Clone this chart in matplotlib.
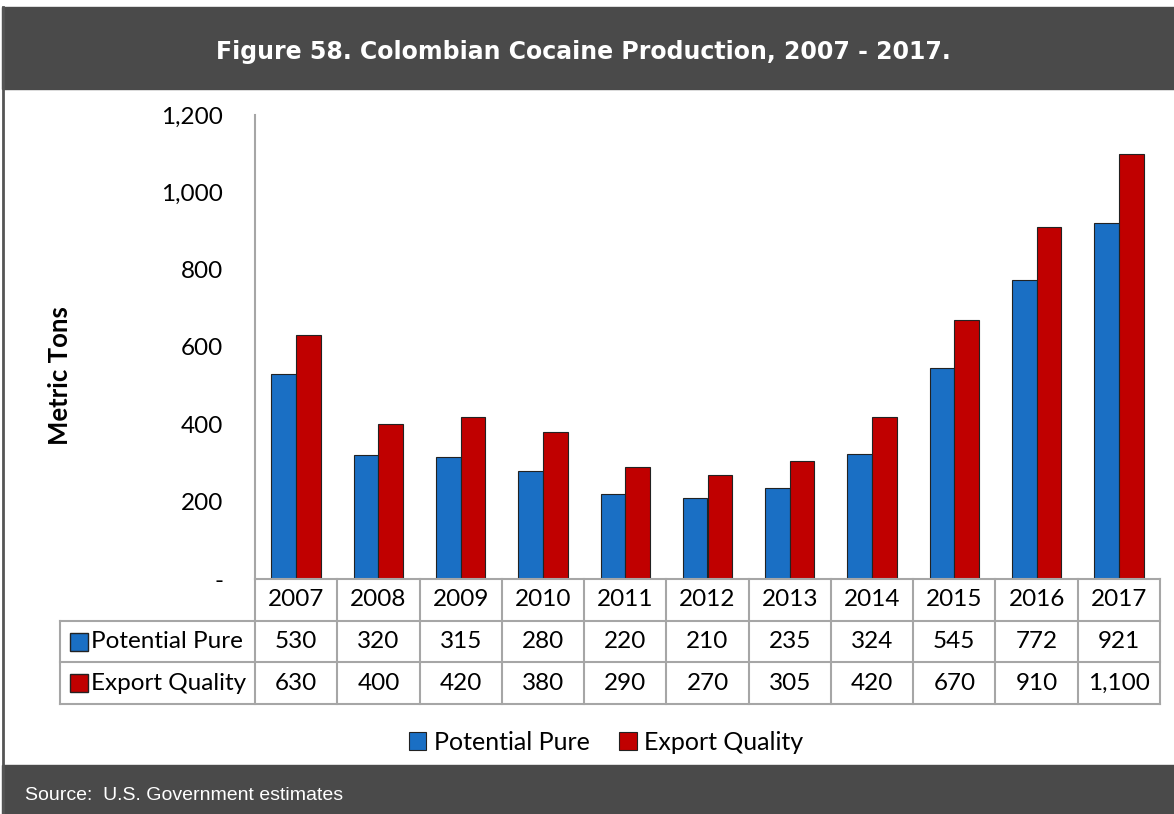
import matplotlib.pyplot as plt
from matplotlib.patches import Rectangle
from matplotlib.lines import Line2D

years = ['2007', '2008', '2009', '2010', '2011', '2012', '2013', '2014', '2015', '2016', '2017']
potential_pure = [530, 320, 315, 280, 220, 210, 235, 324, 545, 772, 921]
export_quality = [630, 400, 420, 380, 290, 270, 305, 420, 670, 910, 1100]
series_names = ['Potential Pure', 'Export Quality']
yticks = [0, 200, 400, 600, 800, 1000, 1200]

title = 'Figure 58. Colombian Cocaine Production, 2007 - 2017.'
source = 'Source:  U.S. Government estimates'

BLUE = '#1a6fc4'
RED = '#c00000'
BAND = '#4a4a4a'
GRID = '#a6a6a6'
W, H = 1174, 814

plt.rcParams['font.family'] = ['Lato', 'DejaVu Sans']

fig = plt.figure(figsize=(W / 100, H / 100), dpi=100)


def px(x0, y0, x1, y1):
    # pixel box (top-left origin) -> figure fraction rect
    return [x0 / W, 1 - y1 / H, (x1 - x0) / W, (y1 - y0) / H]


# header / footer bands and left border
fig.patches.append(Rectangle((2 / W, 1 - 89 / H), 1, 82 / H, transform=fig.transFigure,
                             color=BAND, zorder=0))
fig.patches.append(Rectangle((2 / W, 0), 1, 49 / H, transform=fig.transFigure,
                             color=BAND, zorder=0))
fig.add_artist(Line2D([3 / W, 3 / W], [0, 1 - 7 / H], transform=fig.transFigure,
                      color='#555555', lw=2))
fig.text(583 / W, 1 - 52 / H, title, color='white', fontsize=17, fontweight='bold',
         family='DejaVu Sans', ha='center', va='center')
fig.text(25 / W, 1 - 795 / H, source, color='white', fontsize=14,
         family='Liberation Sans', ha='left', va='center')

# main chart
x0, x1 = 255, 1160
ax = fig.add_axes(px(x0, 115, x1, 579))
idx = list(range(len(years)))
bw = 0.30
b1 = ax.bar([i - bw / 2 for i in idx], potential_pure, bw, color=BLUE,
            edgecolor='#222222', lw=0.8, label=series_names[0])
b2 = ax.bar([i + bw / 2 for i in idx], export_quality, bw, color=RED,
            edgecolor='#222222', lw=0.8, label=series_names[1])
ax.set_xlim(-0.5, len(years) - 0.5)
ax.set_ylim(0, 1200)
ax.set_yticks(yticks)
ax.set_yticklabels(['-' if v == 0 else f'{v:,}' for v in yticks], fontsize=17.5)
ax.tick_params(axis='y', length=0, pad=23)
ax.set_xticks([])
for s in ['top', 'right', 'bottom']:
    ax.spines[s].set_visible(False)
ax.spines['left'].set_color(GRID)
ax.spines['left'].set_linewidth(1.5)

fig.text(60 / W, 1 - 376 / H, 'Metric Tons', rotation=90, fontsize=18.5,
         fontweight='bold', ha='center', va='center')

# data table below the chart
tax = fig.add_axes(px(x0, 579, x1, 704))
tax.set_xlim(-0.5, len(years) - 0.5)
tax.set_ylim(0, 3)
tax.axis('off')
per = (x1 - x0) / len(years)
lab_left = -0.5 - (x0 - 60) / per
kw = dict(color=GRID, lw=1.5, clip_on=False)
tax.plot([-0.5, len(years) - 0.5], [3, 3], **kw)
for yy in [0, 1, 2]:
    tax.plot([lab_left, len(years) - 0.5], [yy, yy], **kw)
for i in range(len(years) + 1):
    tax.plot([i - 0.5, i - 0.5], [0, 3], **kw)
tax.plot([lab_left, lab_left], [0, 2], **kw)

for i, yr in enumerate(years):
    tax.text(i, 2.5, yr, ha='center', va='center', fontsize=17.5)
    tax.text(i, 1.5, f'{potential_pure[i]:,}', ha='center', va='center', fontsize=17.5)
    tax.text(i, 0.5, f'{export_quality[i]:,}', ha='center', va='center', fontsize=17.5)

for yy, name, col in [(1.5, series_names[0], BLUE), (0.5, series_names[1], RED)]:
    tax.plot([-0.5 - (x0 - 79) / per], [yy], marker='s', ms=13.5, color=col,
             mec='#222222', mew=1, clip_on=False)
    tax.text(-0.5 - (x0 - 91) / per, yy, name, ha='left', va='center', fontsize=17.5)

fig.legend(handles=[b1, b2], loc='center', bbox_to_anchor=(606 / W, 1 - 742 / H),
           ncol=2, frameon=False, fontsize=18, handlelength=0.7, handleheight=0.7,
           handletextpad=0.3, columnspacing=1.2)

fig.savefig('out.png', dpi=100)
